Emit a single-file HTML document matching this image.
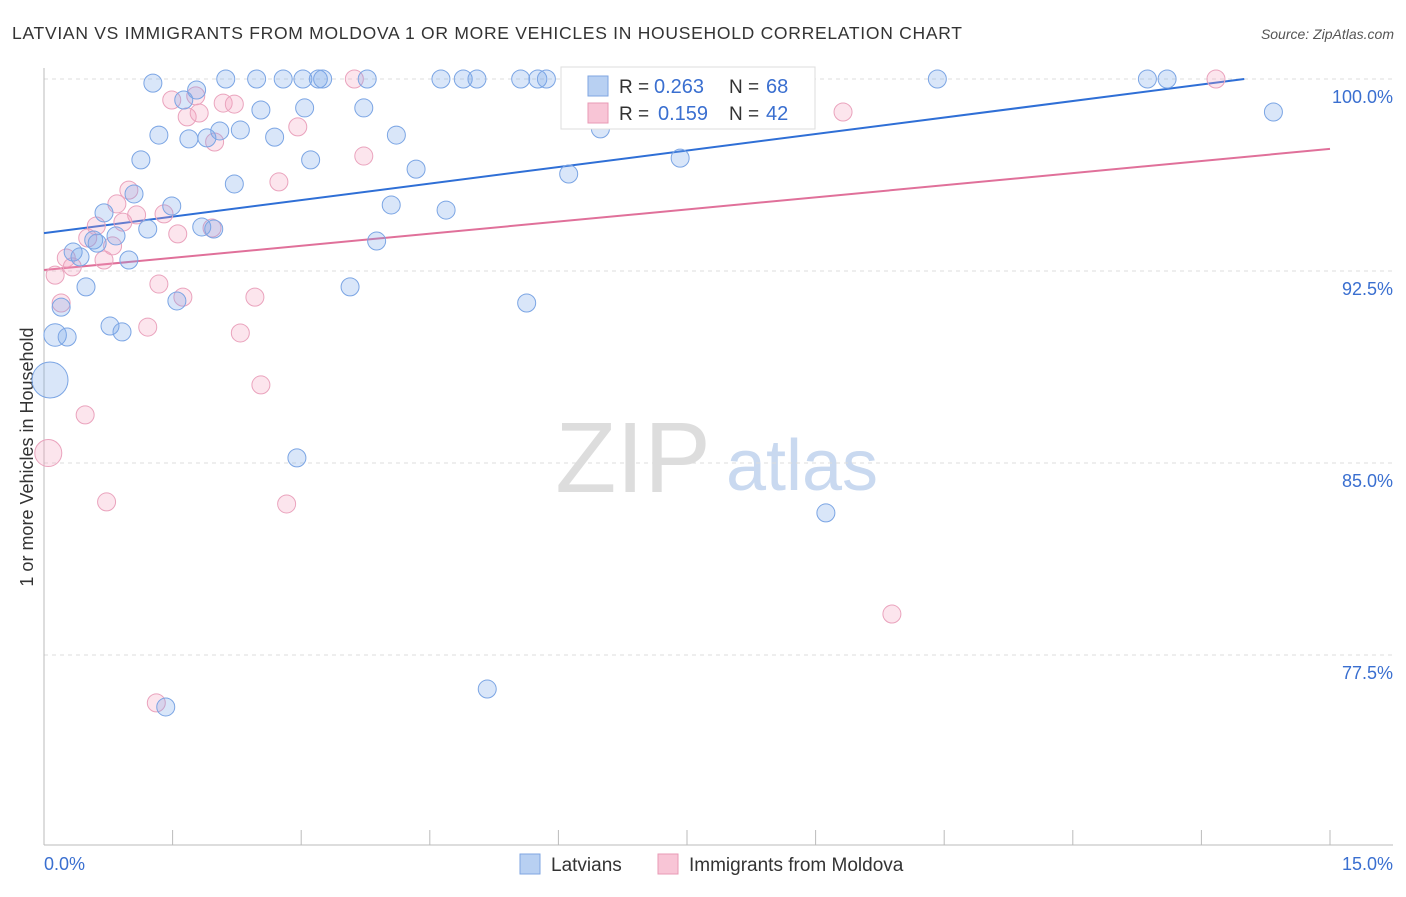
<!DOCTYPE html>
<html><head><meta charset="utf-8"><style>
body{margin:0;background:#fff;font-family:"Liberation Sans",sans-serif;}
svg text{font-family:"Liberation Sans",sans-serif;}
</style></head><body>
<svg id="c" width="1406" height="892" xmlns="http://www.w3.org/2000/svg">
<text x="12" y="39" font-size="17.5" fill="#333" textLength="950">LATVIAN VS IMMIGRANTS FROM MOLDOVA 1 OR MORE VEHICLES IN HOUSEHOLD CORRELATION CHART</text>
<text x="1394" y="39" font-size="14" fill="#555" font-style="italic" text-anchor="end">Source: ZipAtlas.com</text>
<text x="33" y="457" font-size="18" fill="#333" text-anchor="middle" transform="rotate(-90 33 457)">1 or more Vehicles in Household</text>
<g><text x="633" y="492" font-size="100" fill="#ddd" font-family="Liberation Serif" text-anchor="middle">ZIP</text><text x="802" y="490" font-size="72" fill="#c9d9f0" text-anchor="middle">atlas</text></g>
<g id="grid"></g><g id="axes"></g><g id="trend"></g><g id="pts"></g>
<g>
<rect x="561" y="67" width="254" height="62" fill="#fff" stroke="#ddd"/>
<rect x="588" y="76" width="20" height="20" fill="#b8d0f2" stroke="#7fa6e2"/>
<rect x="588" y="103" width="20" height="20" fill="#f8c5d6" stroke="#e89ab5"/>
<text x="619" y="93" font-size="19" fill="#333">R =</text><text x="654" y="93" font-size="20" fill="#3a6fd0">0.263</text>
<text x="729" y="93" font-size="19" fill="#333">N =</text><text x="766" y="93" font-size="20" fill="#3a6fd0">68</text>
<text x="619" y="120" font-size="19" fill="#333">R =</text><text x="658" y="120" font-size="20" fill="#3a6fd0">0.159</text>
<text x="729" y="120" font-size="19" fill="#333">N =</text><text x="766" y="120" font-size="20" fill="#3a6fd0">42</text>
</g>
<g>
<rect x="520" y="854" width="20" height="20" fill="#b8d0f2" stroke="#7fa6e2"/>
<text x="551" y="871" font-size="19" fill="#333">Latvians</text>
<rect x="658" y="854" width="20" height="20" fill="#f8c5d6" stroke="#e89ab5"/>
<text x="689" y="871" font-size="19" fill="#333">Immigrants from Moldova</text>
</g>
</svg>
<script>
const yTicks=[100,92.5,85,77.5];
const yTickLabels=["100.0%","92.5%","85.0%","77.5%"];
const xTickLabels=["0.0%","15.0%"];
const blueX=[153,197,226,257,283,303,318,323,367,441,463,477,521,538,546,773,937,1147,1167,1273,184,261,305,364,159,189,207,220,240,275,396,600,141,311,416,680,569,234,134,172,104,391,446,148,202,214,116,94,97,377,73,80,129,86,350,61,177,527,110,122,55,67,50,297,826,487,166].map(p=>+((p-44)*15/1286).toFixed(2));
const blueY=[83,90,79,79,79,79,79,79,79,79,79,79,79,79,79,79,79,79,79,112,100,110,108,108,135,139,138,131,130,137,135,129,160,160,169,158,174,184,194,206,213,205,210,229,227,229,236,240,243,241,252,257,260,287,287,307,301,303,326,332,335,337,380,458,513,689,707].map(p=>+(100-(p-79)/25.6).toFixed(2));
const blueSize=[1,1,1,1,1,1,1,1,1,1,1,1,1,1,1,1,1,1,1,1,1,1,1,1,1,1,1,1,1,1,1,1,1,1,1,1,1,1,1,1,1,1,1,1,1,1,1,1,1,1,1,1,1,1,1,1,1,1,1,1,1.25,1,2.0,1,1,1,1];
const pinkX=[729,1216,354,172,196,223,234,187,199,215,298,843,364,279,129,117,137,164,96,123,178,212,88,113,66,104,72,55,159,183,255,61,148,240,261,85,48,107,287,892,156].map(p=>+((p-44)*15/1286).toFixed(2));
const pinkY=[79,79,79,100,96,103,104,117,113,142,127,112,156,182,190,204,215,214,226,222,234,228,238,246,258,260,267,275,284,297,297,303,327,333,385,415,453,502,504,614,703].map(p=>+(100-(p-79)/25.6).toFixed(2));
const pinkSize=[1,1,1,1,1,1,1,1,1,1,1,1,1,1,1,1,1,1,1,1,1,1,1,1,1,1,1,1,1,1,1,1,1,1,1,1,1.5,1,1,1,1];
const blueTrend=[93.98,100.43];
const pinkTrend=[92.54,97.27];
const X=v=>44+v/15*1286, Y=v=>79+(100-v)*25.6;
const NS="http://www.w3.org/2000/svg";
function mk(t,a,p){const e=document.createElementNS(NS,t);for(const k in a)e.setAttribute(k,a[k]);p.appendChild(e);return e;}
const g=document.getElementById('grid');
yTicks.forEach((t,i)=>{
 const l=mk('line',{x1:44,x2:1393,y1:Y(t),y2:Y(t),stroke:'#ddd','stroke-dasharray':'4,4'},g);
 
 
 const tx=mk('text',{x:1393,y:Y(t)+24,'font-size':18,fill:'#3a6fd0','text-anchor':'end'},g);
 tx.textContent=yTickLabels[i];
 
 
});
const ax=document.getElementById('axes');
mk('line',{x1:44,x2:44,y1:68,y2:845,stroke:'#bbb'},ax);
mk('line',{x1:44,x2:1393,y1:845,y2:845,stroke:'#bbb'},ax);
for(let i=0;i<=10;i++){mk('line',{x1:X(i*1.5),x2:X(i*1.5),y1:830,y2:845,stroke:'#bbb'},ax);}
const xl=mk('text',{x:44,y:870,'font-size':18,fill:'#3a6fd0'},ax);xl.textContent=xTickLabels[0];


const xr=mk('text',{x:1393,y:870,'font-size':18,fill:'#3a6fd0','text-anchor':'end'},ax);xr.textContent=xTickLabels[1];


const tr=document.getElementById('trend');
function trend(a,col,name){let x2=15,y2=a[1];if(y2>100){x2=15*(100-a[0])/(a[1]-a[0]);y2=100;}
 const l=mk('line',{x1:X(0),y1:Y(a[0]),x2:X(x2),y2:Y(y2),stroke:col,'stroke-width':2},tr);
 
 }
trend(blueTrend,'#2f6fd6','latvians-trendline');
trend(pinkTrend,'#e0709a','moldova-trendline');
const pg=document.getElementById('pts');
function pts(xs,ys,ss,fill,st,name){xs.forEach((x,i)=>{
 const c=mk('circle',{cx:X(x),cy:Y(ys[i]),r:9*ss[i],fill:fill,stroke:st,'stroke-width':1},pg);
 
 });}
pts(pinkX,pinkY,pinkSize,'rgba(244,160,190,0.28)','#eaa3bd','moldova-point');
pts(blueX,blueY,blueSize,'rgba(120,165,235,0.28)','#7ba5e4','latvians-point');
</script>
</body></html>
